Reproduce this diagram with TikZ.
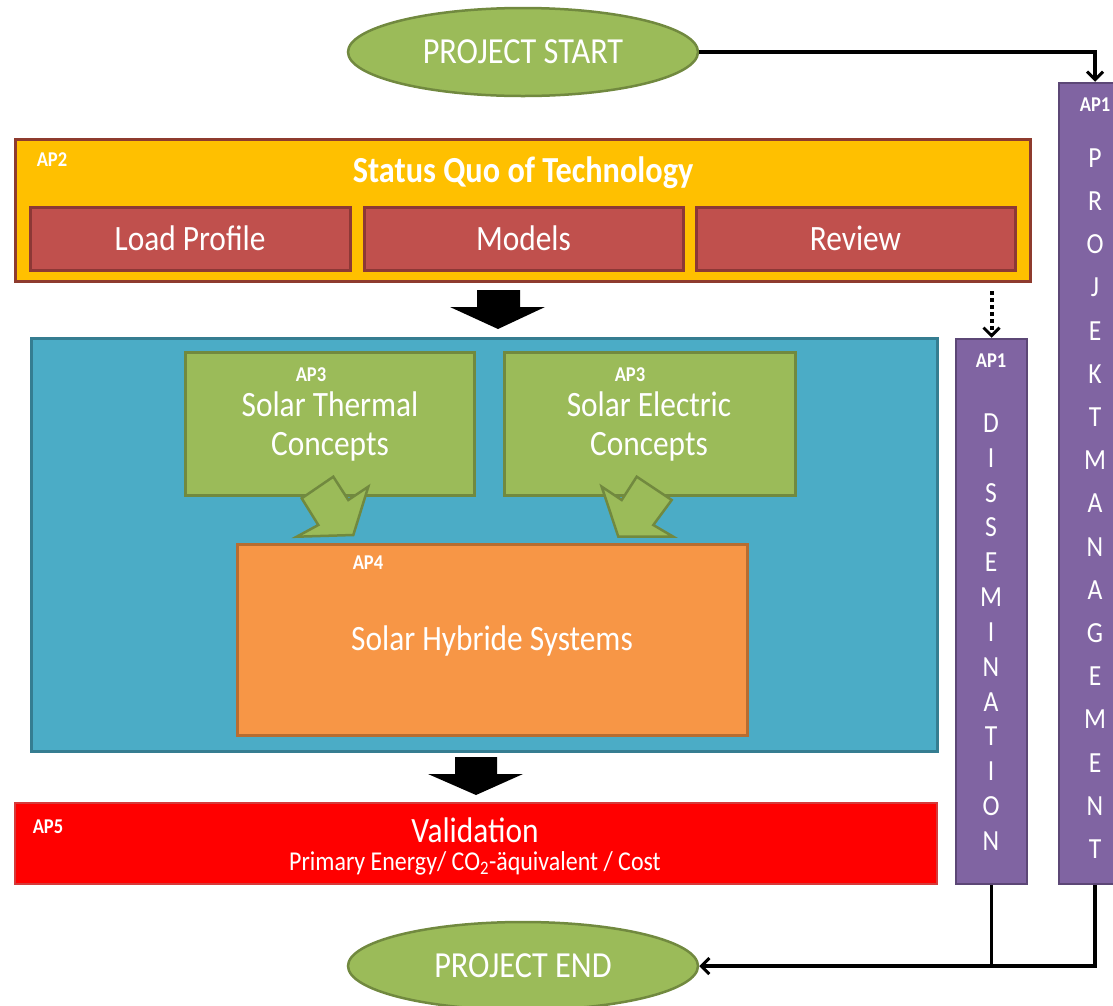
\documentclass[tikz,border=0pt]{standalone}
\usepackage{fontspec}
\usepackage{graphicx}
\setmainfont{Carlito}
\usetikzlibrary{shapes.geometric,arrows.meta}

\definecolor{apyellow}{HTML}{FFC000}
\definecolor{apyellowline}{HTML}{8E3B2E}
\definecolor{apred}{HTML}{C0504D}
\definecolor{apredline}{HTML}{8C3836}
\definecolor{apblue}{HTML}{4BACC6}
\definecolor{apblueline}{HTML}{357D91}
\definecolor{apgreen}{HTML}{9BBB59}
\definecolor{apgreenline}{HTML}{71893F}
\definecolor{aporange}{HTML}{F79646}
\definecolor{aporangeline}{HTML}{B66D31}
\definecolor{appurple}{HTML}{8064A2}
\definecolor{appurpleline}{HTML}{5C4776}
\definecolor{apbright}{HTML}{FF0000}
\definecolor{apbrightline}{HTML}{D63A3A}

% slightly narrow, tall lettering
\newcommand\tall[1]{\scalebox{0.95}[1.08]{#1}}

\tikzset{
  panel/.style={draw, line width=3pt, rectangle, inner sep=0pt},
  txt/.style={text=white, inner sep=0pt, anchor=center},
  big/.style={txt, font=\fontsize{33}{39}\selectfont, align=center},
  apl/.style={txt, font=\bfseries\fontsize{19.5}{22}\selectfont},
  letter/.style={txt, font=\fontsize{27}{30}\selectfont},
  oval/.style={ellipse, draw=apgreenline, fill=apgreen, line width=2.5pt,
    minimum width=350pt, minimum height=88pt, inner sep=0pt,
    text=white, font=\fontsize{34}{38}\selectfont},
  link/.style={line width=3.5pt, draw=black},
  barbtip/.style={-{Straight Barb[length=8pt,width=16pt,line width=3pt]}},
  blockarrow/.style={fill=black, draw=none},
  greenarrow/.style={fill=apgreen, draw=apgreenline, line width=2.5pt, line join=miter}
}

\begin{document}
\begin{tikzpicture}[x=1pt,y=-1pt]
  \useasboundingbox (0,0) rectangle (1113,1005);
  \clip (0,0) rectangle (1113,1005);

  % start and end of the project
  \node[oval] (start) at (523,52) {\tall{PROJECT START}};
  \node[oval] (end) at (523,966) {\tall{PROJECT END}};

  % AP2: status quo of technology
  \node[panel, fill=apyellow, draw=apyellowline, minimum width=1015pt, minimum height=142pt] (ap2) at (522.5,210) {};
  \node[apl] (ap2l) at (52,160) {\tall{AP2}};
  \node[txt, font=\bfseries\fontsize{34}{38}\selectfont] (sq) at (523,173) {\tall{Status Quo of Technology}};
  \node[panel, fill=apred, draw=apredline, minimum width=320pt, minimum height=63pt] (load) at (190,238.5) {};
  \node[panel, fill=apred, draw=apredline, minimum width=319pt, minimum height=63pt] (models) at (523.5,238.5) {};
  \node[panel, fill=apred, draw=apredline, minimum width=319pt, minimum height=63pt] (review) at (855.5,238.5) {};
  \node[big] (loadt) at (load.center) {\tall{Load Profile}};
  \node[big] (modelst) at (models.center) {\tall{Models}};
  \node[big] (reviewt) at (review.center) {\tall{Review}};

  % AP3 / AP4 block
  \node[panel, fill=apblue, draw=apblueline, minimum width=906pt, minimum height=413pt] (blue) at (484,544.5) {};
  \node[panel, fill=apgreen, draw=apgreenline, minimum width=289pt, minimum height=143pt] (thermal) at (329.5,423.5) {};
  \node[panel, fill=apgreen, draw=apgreenline, minimum width=291pt, minimum height=143pt] (electric) at (649.5,423.5) {};
  \node[apl] (ap3a) at (311,375) {\tall{AP3}};
  \node[apl] (ap3b) at (630,375) {\tall{AP3}};
  \node[big] (thermalt) at (330,426) {\tall{Solar Thermal}\\\tall{Concepts}};
  \node[big] (electrict) at (649,426) {\tall{Solar Electric}\\\tall{Concepts}};
  \node[panel, fill=aporange, draw=aporangeline, minimum width=510pt, minimum height=191pt] (hybrid) at (492,639.5) {};
  \node[apl] (ap4) at (368,563) {\tall{AP4}};
  \node[big] (hybridt) at (492,641) {\tall{Solar Hybride Systems}};

  % bent arrows from the AP3 concepts into AP4
  \draw[greenarrow] (333.3,476.7) -- (348.3,500) -- (368.3,486.7) -- (353.3,535)
    -- (296.7,536.7) -- (318.3,525) -- (301.7,498.3) -- cycle;
  \draw[greenarrow] (636.7,476.7) -- (621.7,500) -- (601.7,486.7) -- (618.3,536.7)
    -- (673.3,536.7) -- (653.3,525) -- (671.7,500) -- cycle;

  % flow arrows between the stages
  \fill[blockarrow] (477,290) -- (520,290) -- (520,307) -- (545,307) -- (498,329)
    -- (450,307) -- (477,307) -- cycle;
  \fill[blockarrow] (455,757) -- (497,757) -- (497,774) -- (523,774) -- (476,795)
    -- (428,774) -- (455,774) -- cycle;

  % AP5: validation
  \node[panel, fill=apbright, draw=apbrightline, line width=1.5pt, minimum width=922pt, minimum height=81pt] (ap5) at (476,843.5) {};
  \node[apl] (ap5l) at (48,827) {\tall{AP5}};
  \node[big] (valt) at (475,830) {\tall{Validation}};
  \node[txt, font=\fontsize{25.2}{28}\selectfont] (valsub) at (475,863) {\tall{Primary Energy/ CO\textsubscript{2}-äquivalent / Cost}};

  % AP1 columns: dissemination and project management
  \node[panel, fill=appurple, draw=appurpleline, line width=2.5pt, minimum width=71pt, minimum height=545pt] (diss) at (991.5,611.5) {};
  \node[panel, fill=appurple, draw=appurpleline, line width=2.5pt, minimum width=72pt, minimum height=801pt] (pm) at (1095,483.5) {};
  \node[apl] (ap1d) at (991,361) {\tall{AP1}};
  \node[apl] (ap1p) at (1095,105) {\tall{AP1}};
  \foreach \c [count=\i] in {D,I,S,S,E,M,I,N,A,T,I,O,N}
    \node[letter] (d\i) at (991,423+34.83*\i-34.83) {\tall{\c}};
  \foreach \c [count=\i] in {P,R,O,J,E,K,T,M,A,N,A,G,E,M,E,N,T}
    \node[letter] (p\i) at (1095,158+43.19*\i-43.19) {\tall{\c}};

  % connectors
  \draw[link, barbtip] (start.east) -| (pm.north);
  \coordinate (dissfrom) at (991.5,291);
  \draw[line width=4pt, dash pattern=on 4pt off 3pt, barbtip] (dissfrom) -- (diss.north);
  \draw[link] (diss.south) -- (diss.south |- end.east);
  \draw[link, barbtip] (pm.south) |- (end.east);
\end{tikzpicture}
\end{document}
